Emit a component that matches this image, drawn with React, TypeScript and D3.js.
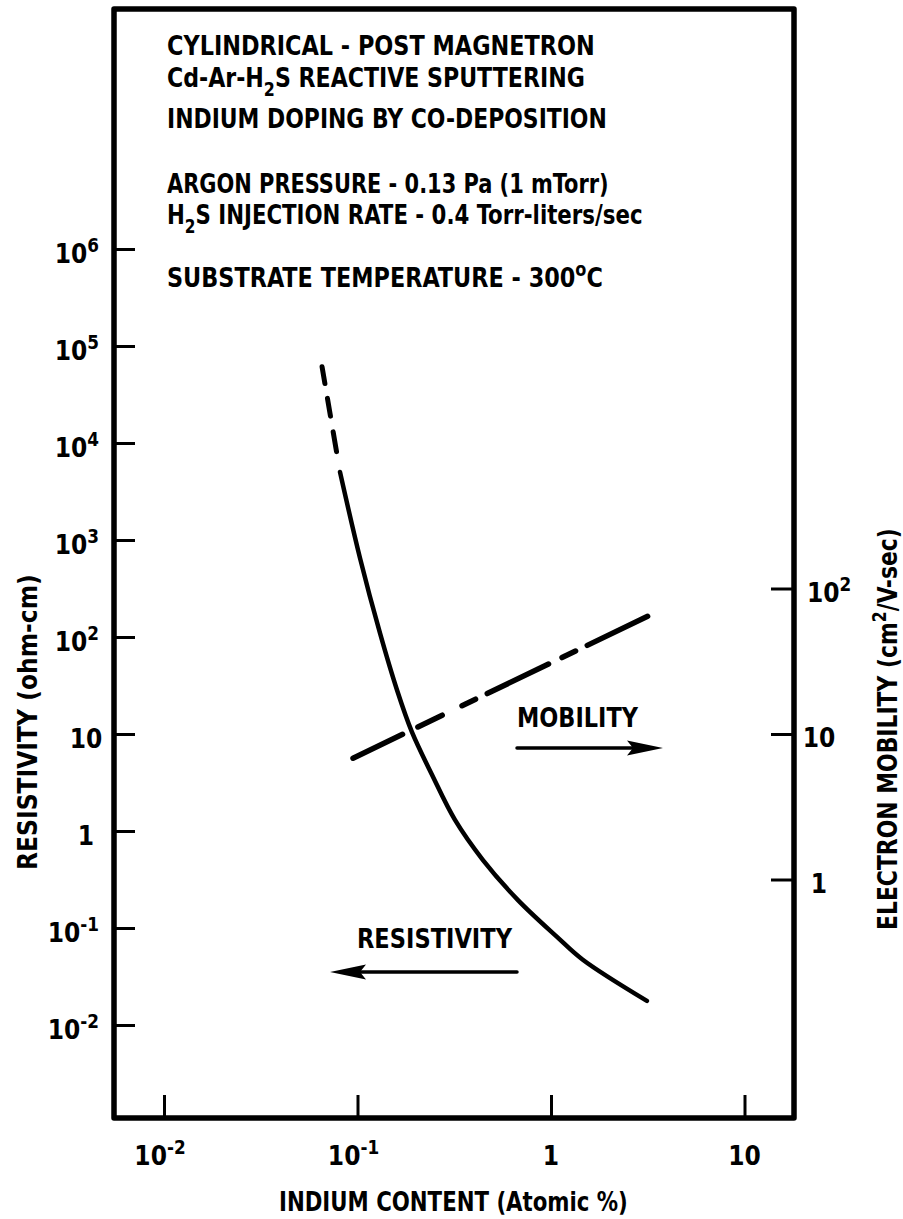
import React, { useEffect, useRef } from "react"
import * as d3 from "d3"

const W = 903
const H = 1219
const FONT = "'DejaVu Sans Condensed', 'Liberation Sans Narrow', 'DejaVu Sans', sans-serif"

// resistivity (ohm-cm) vs indium content (atomic %)
const resDashedX = [0.0656, 0.0812]
const resDashedY = [61000, 5020]
const resX = [0.0812, 0.103, 0.1306, 0.16, 0.191, 0.243, 0.319, 0.445, 0.675, 1.074, 1.46, 3.13]
const resY = [5020, 652, 110, 28.4, 10.5, 3.78, 1.3, 0.502, 0.194, 0.081, 0.047, 0.0177]

// electron mobility (cm2/V-sec)
const mobX = [0.0948, 3.33]
const mobY = [6.82, 66.6]

const xTicks = [0.01, 0.1, 1, 10]
const xTickLabels = [["10", "-2"], ["10", "-1"], ["1", ""], ["10", ""]]
const resTicks = [1e-2, 1e-1, 1, 10, 1e2, 1e3, 1e4, 1e5, 1e6]
const resTickLabels = [["10", "-2"], ["10", "-1"], ["1", ""], ["10", ""], ["10", "2"], ["10", "3"], ["10", "4"], ["10", "5"], ["10", "6"]]
const mobTicks = [1, 10, 100]
const mobTickLabels = [["1", ""], ["10", ""], ["10", "2"]]

// notes: each line is a list of [text, kind]
const notes = [
    [["CYLINDRICAL - POST MAGNETRON", ""]],
    [["Cd-Ar-H", ""], ["2", "sub"], ["S REACTIVE SPUTTERING", ""]],
    [["INDIUM DOPING BY CO-DEPOSITION", ""]],
    [["ARGON PRESSURE - 0.13 Pa (1 mTorr)", ""]],
    [["H", ""], ["2", "sub"], ["S INJECTION RATE - 0.4 Torr-liters/sec", ""]],
    [["SUBSTRATE TEMPERATURE - 300", ""], ["o", "sup"], ["C", ""]],
]
const noteBaselines = [55, 87, 128, 193, 224, 287]
const noteWidths = [428, 418, 440, 442, 476, 436]

// box
const left = 114, right = 794, top = 9, bottom = 1118

function addSegments(text, segs, size) {
    let shift = 0
    segs.forEach(([s, kind]) => {
        const target = kind === "sub" ? size * 0.32 : kind === "sup" ? -size * 0.42 : 0
        text.append("tspan")
            .attr("dy", target - shift)
            .attr("font-size", kind ? size * 0.72 : size)
            .text(s)
        shift = target
    })
}

// squeeze a text horizontally so it spans w pixels
function fitWidth(text, x, y, w, rot = 0) {
    const nat = text.node().getComputedTextLength() || w
    text.attr("transform", `translate(${x},${y}) rotate(${rot}) scale(${w / nat},1)`)
}

export default function App() {
    const ref = useRef(null)

    useEffect(() => {
        const svg = d3.select(ref.current)
        svg.selectAll("*").remove()

        const x = d3.scaleLog().domain([0.01, 10]).range([164, 744.5])
        const yRes = d3.scaleLog().domain([0.01, 1e6]).range([1025, 249])
        const yMob = d3.scaleLog().domain([1, 100]).range([879.5, 588.5])

        svg.append("rect").attr("width", W).attr("height", H).attr("fill", "#fff")

        // axes (inward ticks)
        const gl = svg.append("g").attr("transform", `translate(${left},0)`)
            .call(d3.axisRight(yRes).tickValues(resTicks).tickSize(21).tickFormat(() => ""))
        const gr = svg.append("g").attr("transform", `translate(${right},0)`)
            .call(d3.axisLeft(yMob).tickValues(mobTicks).tickSize(23).tickFormat(() => ""))
        const gb = svg.append("g").attr("transform", `translate(0,${bottom})`)
            .call(d3.axisTop(x).tickValues(xTicks).tickSize(23).tickFormat(() => ""))
        ;[gl, gr, gb].forEach(g => {
            g.select(".domain").remove()
            g.selectAll("line").attr("stroke", "#000").attr("stroke-width", 3)
        })

        svg.append("rect")
            .attr("x", left).attr("y", top)
            .attr("width", right - left).attr("height", bottom - top)
            .attr("fill", "none").attr("stroke", "#000")
            .attr("stroke-width", 5.5).attr("stroke-linejoin", "round")

        const txt = svg.append("g").attr("font-family", FONT).attr("font-weight", "bold").attr("fill", "#000")

        // tick labels
        resTicks.forEach((v, i) => {
            const [b, s] = resTickLabels[i]
            const t = txt.append("text")
                .attr("x", s ? 99 : 86).attr("y", yRes(v) + 14)
                .attr("text-anchor", s ? "end" : "middle")
            addSegments(t, s ? [[b, ""], [s, "sup"]] : [[b, ""]], 26)
        })
        mobTicks.forEach((v, i) => {
            const [b, s] = mobTickLabels[i]
            const t = txt.append("text")
                .attr("x", s ? 807 : 819).attr("y", yMob(v) + 13)
                .attr("text-anchor", s ? "start" : "middle")
            addSegments(t, s ? [[b, ""], [s, "sup"]] : [[b, ""]], 26)
        })
        xTicks.forEach((v, i) => {
            const [b, s] = xTickLabels[i]
            const t = txt.append("text")
                .attr("x", s ? x(v) - 4 : x(v)).attr("y", 1165)
                .attr("text-anchor", "middle")
            addSegments(t, s ? [[b, ""], [s, "sup"]] : [[b, ""]], 26)
        })

        // axis titles
        const xt = txt.append("text").attr("font-size", 26).text("INDIUM CONTENT (Atomic %)")
        fitWidth(xt, 279, 1211, 349)
        const lt = txt.append("text").attr("font-size", 26).text("RESISTIVITY (ohm-cm)")
        fitWidth(lt, 37, 870, 296, -90)
        const rl = txt.append("text").attr("font-size", 26)
        addSegments(rl, [["ELECTRON MOBILITY (cm", ""], ["2", "sup"], ["/V-sec)", ""]], 26)
        fitWidth(rl, 897, 930, 402, -90)

        // notes
        notes.forEach((segs, i) => {
            const t = txt.append("text")
            addSegments(t, segs, 27)
            fitWidth(t, 167, noteBaselines[i], noteWidths[i])
        })

        // curves
        const resLine = d3.line().x(d => x(d[0])).y(d => yRes(d[1])).curve(d3.curveCatmullRom)
        const mobLine = d3.line().x(d => x(d[0])).y(d => yMob(d[1]))
        const curves = svg.append("g").attr("fill", "none").attr("stroke", "#000").attr("stroke-linecap", "round")
        curves.append("path")
            .attr("d", resLine(resDashedX.map((v, i) => [v, resDashedY[i]])))
            .attr("stroke-width", 5).attr("stroke-dasharray", "17 15 18 16 20 40")
        curves.append("path")
            .attr("d", resLine(resX.map((v, i) => [v, resY[i]])))
            .attr("stroke-width", 4.5)
        curves.append("path")
            .attr("d", mobLine(mobX.map((v, i) => [v, mobY[i]])))
            .attr("stroke-width", 5.5).attr("stroke-dasharray", "55 17 27 22 15 13 68 15 15 13 67")

        // legend arrows
        const arrows = [
            { label: "MOBILITY", lx: 517, ly: 727, lw: 121, x0: 517, x1: 663, y: 748 },
            { label: "RESISTIVITY", lx: 357, ly: 948, lw: 155, x0: 517, x1: 330, y: 972 },
        ]
        arrows.forEach(a => {
            const t = txt.append("text").attr("font-size", 27).text(a.label)
            fitWidth(t, a.lx, a.ly, a.lw)
            const dir = Math.sign(a.x1 - a.x0)
            svg.append("line")
                .attr("x1", a.x0).attr("x2", a.x1 - dir * 20).attr("y1", a.y).attr("y2", a.y)
                .attr("stroke", "#000").attr("stroke-width", 3.5).attr("stroke-linecap", "round")
            svg.append("path")
                .attr("d", `M${a.x1},${a.y}L${a.x1 - dir * 36},${a.y - 7.5}L${a.x1 - dir * 30},${a.y}L${a.x1 - dir * 36},${a.y + 7.5}Z`)
                .attr("fill", "#000")
        })
    }, [])

    return (
        <svg ref={ref} width={W} height={H}
            style={{ position: "absolute", left: 0, top: 0, display: "block" }} />
    )
}
